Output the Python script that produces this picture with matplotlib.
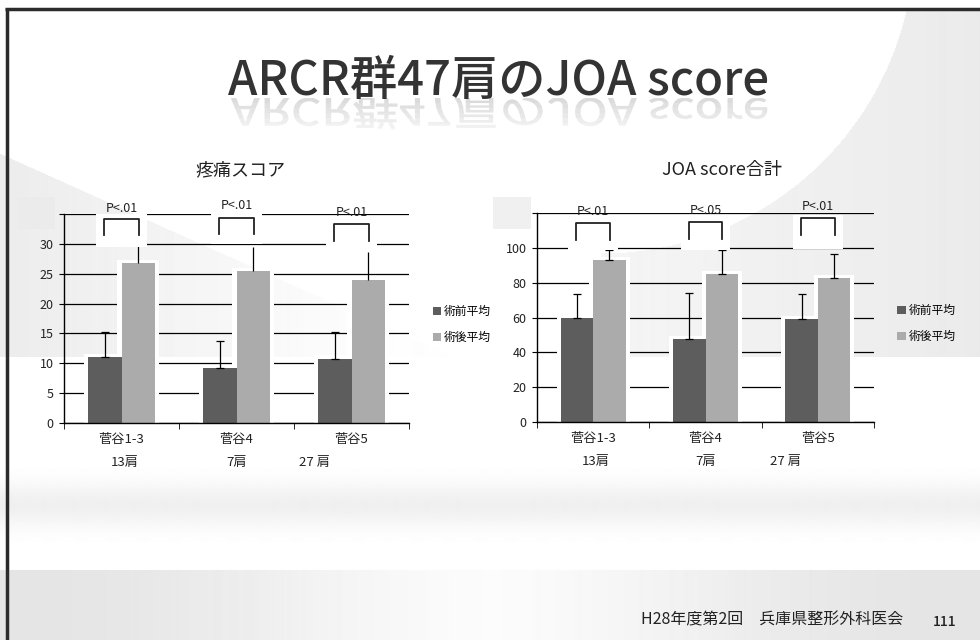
import matplotlib.pyplot as plt
import numpy as np
from matplotlib.font_manager import FontProperties
from matplotlib.patches import PathPatch, Rectangle
from matplotlib.textpath import TextPath
from matplotlib.transforms import Affine2D

plt.rcParams['font.family'] = ['Noto Sans CJK JP', 'DejaVu Sans']

# data
groups = ['菅谷1-3', '菅谷4', '菅谷5']
shoulders = ['13肩', '7肩', '27 肩']
series = ['術前平均', '術後平均']

pain_pre = [11.1, 9.2, 10.8]
pain_pre_err = [4.2, 4.5, 4.5]
pain_post = [26.8, 25.5, 23.9]
pain_post_err = [4.2, 4.0, 4.8]
pain_p = ['P<.01', 'P<.01', 'P<.01']

joa_pre = [59.7, 47.8, 59.1]
joa_pre_err = [13.7, 26.2, 14.3]
joa_post = [92.9, 84.9, 82.6]
joa_post_err = [6.0, 14.0, 13.6]
joa_p = ['P<.01', 'P<.05', 'P<.01']

title = 'ARCR群47肩のJOA score'
subtitles = ['疼痛スコア', 'JOA score合計']
footer = 'H28年度第2回\u3000兵庫県整形外科医会'
page_no = '111'

W, H = 980, 640
fig = plt.figure(figsize=(W / 100, H / 100), dpi=100)

# ---- slide background (pixel coordinates, y down) ----
bg = fig.add_axes([0, 0, 1, 1], zorder=-1)
bg.set_xlim(0, W)
bg.set_ylim(H, 0)
bg.axis('off')

yy, xx = np.mgrid[0:H, 0:W].astype(float)
img = np.ones((H, W))
band = (yy >= 8) & (yy < 357)
outside = ((xx - 600) ** 2 + (yy + 60) ** 2 > 313 ** 2) & (xx > 600)
img[band & outside] = 0.96 - 0.04 * (xx[band & outside] - 600) / 380
wedge = band & (yy > 157 + 0.45 * (xx - 8)) & (xx < 470)
img[wedge] = 0.925 + 0.07 * np.minimum(1, xx[wedge] / 380)
mid = (yy >= 357) & (yy < 570)
img[mid] = 1 - 0.06 * np.exp(-((yy[mid] - 505) / 22) ** 2)
low = yy >= 570
img[low] = 0.985 - 0.09 * np.abs(np.cos(np.pi * xx[low] / W)) ** 1.5
bg.imshow(img, extent=(0, W, H, 0), cmap='gray', vmin=0, vmax=1,
          aspect='auto', interpolation='bilinear')

bg.plot([5, W], [8.5, 8.5], color='#2b2b2b', lw=2.5, solid_capstyle='butt')
bg.plot([6.5, 6.5], [8, H], color='#2b2b2b', lw=2.5, solid_capstyle='butt')

# title with a fading mirror image below it
bg.text(499, 95, title, ha='center', va='baseline', fontsize=34,
        fontweight='medium', color='#333333')
tp = TextPath((0, 0), title, size=47,
              prop=FontProperties(family=['Noto Sans CJK JP', 'DejaVu Sans'], weight='medium'))
ext = tp.get_extents()
mirror = tp.transformed(Affine2D().scale(1, 0.8).translate(499 - ext.width / 2 - ext.x0, 98))
for k in range(8):
    piece = PathPatch(mirror, facecolor='#8a8a8a', edgecolor='none', alpha=0.3 * (1 - k / 8))
    bg.add_patch(piece)
    piece.set_clip_path(Rectangle((0, 98 + 5 * k), W, 5, transform=bg.transData))

bg.text(240, 170, subtitles[0], ha='center', va='center', fontsize=13, color='#222222')
bg.text(722, 170, subtitles[1], ha='center', va='center', fontsize=13, color='#222222')
bg.text(903, 620, footer, ha='right', va='center', fontsize=11.5, color='#222222')
bg.text(945, 622, page_no, ha='center', va='center', fontsize=10, color='#222222',
        fontweight='medium')


def draw_panel(ax, pre, pre_err, post, post_err, ymax, ystep, pvals, post_cap,
               bracket_top, bracket_leg, ptext_y, box_lo, box_hi, count_x):
    x = np.arange(len(groups))
    w = 0.29
    ax.set_facecolor('none')
    ax.set_xlim(-0.5, 2.5)
    ax.set_ylim(0, ymax)
    ax.set_yticks(np.arange(0, ymax + 1, ystep))
    ax.yaxis.grid(True, color='black', lw=0.9)
    ax.set_axisbelow(True)

    # soft white halo around the bars
    halo = ymax * 0.015
    ax.bar(x - w / 2, np.array(pre) + halo, w + 0.07, color='white', zorder=1.5)
    ax.bar(x + w / 2, np.array(post) + halo, w + 0.07, color='white', zorder=1.5)

    b1 = ax.bar(x - w / 2, pre, w, color='#5d5d5d', zorder=2, label=series[0])
    b2 = ax.bar(x + w / 2, post, w, color='#ababab', zorder=2, label=series[1])
    ax.errorbar(x - w / 2, pre, yerr=[np.zeros(3), pre_err], fmt='none',
                ecolor='black', elinewidth=0.9, capsize=3, capthick=0.9, zorder=2.2)
    ax.errorbar(x + w / 2, post, yerr=[np.zeros(3), post_err], fmt='none',
                ecolor='black', elinewidth=0.9, capsize=post_cap, capthick=0.9, zorder=2.2)

    for i in x:
        ax.add_patch(Rectangle((i - 0.22, box_lo[i]), 0.44, box_hi[i] - box_lo[i],
                               facecolor='white', edgecolor='none', zorder=2.5, clip_on=False))
        ax.plot([i - 0.15, i - 0.15, i + 0.15, i + 0.15],
                [bracket_leg[i], bracket_top[i], bracket_top[i], bracket_leg[i]],
                color='#222222', lw=1.3, zorder=3, clip_on=False)
        ax.text(i, ptext_y[i], pvals[i], ha='center', va='center', fontsize=9,
                color='#222222', zorder=4, clip_on=False)
        ax.text(count_x[i], -0.19, shoulders[i], transform=ax.get_xaxis_transform(),
                ha='center', va='center', fontsize=9.5, color='#222222')

    for s in ('top', 'right'):
        ax.spines[s].set_visible(False)
    for s in ('left', 'bottom'):
        ax.spines[s].set_color('black')
        ax.spines[s].set_linewidth(1)

    ax.set_xticks(x, groups)
    ax.set_xticks([-0.5, 0.5, 1.5, 2.5], minor=True)
    ax.tick_params(axis='x', which='major', length=0, pad=7, labelsize=9.5, labelcolor='#222222')
    ax.tick_params(axis='x', which='minor', length=4, direction='out')
    ax.tick_params(axis='y', length=3.6, direction='out', pad=4, labelsize=9,
                   labelcolor='#222222')

    ax.legend(handles=[b1, b2], loc='center left', bbox_to_anchor=(1.055, 0.47),
              frameon=False, fontsize=8.5, handlelength=0.7, handleheight=0.7,
              handletextpad=0.25, labelspacing=1.1, borderaxespad=0)


ax1 = fig.add_axes([64 / W, 1 - 423 / H, 345 / W, 209 / H])
draw_panel(ax1, pain_pre, pain_pre_err, pain_post, pain_post_err, 35, 5, pain_p, 0,
           bracket_top=[34.2, 34.4, 33.4], bracket_leg=[31.4, 31.7, 30.5],
           ptext_y=[36.0, 36.4, 35.2], box_lo=[29.5, 30.0, 29.4],
           box_hi=[35.0, 35.0, 34.4], count_x=[0.03, 1.0, 1.68])

ax2 = fig.add_axes([537 / W, 1 - 422 / H, 337 / W, 209 / H])
draw_panel(ax2, joa_pre, joa_pre_err, joa_post, joa_post_err, 120, 20, joa_p, 3,
           bracket_top=[114.3, 114.9, 117.2], bracket_leg=[104.6, 105.2, 107.4],
           ptext_y=[120.7, 121.2, 123.5], box_lo=[98.5, 98.5, 99.5],
           box_hi=[117.8, 117.8, 119.0], count_x=[0.02, 1.0, 1.71])

# light boxes hiding the top tick labels, as on the slide
fig.add_artist(Rectangle((17 / W, 1 - 229 / H), 38 / W, 32 / H, transform=fig.transFigure,
                         facecolor='#ebebeb', edgecolor='none', zorder=5))
fig.add_artist(Rectangle((493 / W, 1 - 229 / H), 38 / W, 32 / H, transform=fig.transFigure,
                         facecolor='#f0f0f0', edgecolor='none', zorder=5))

fig.savefig('out.png', dpi=100)
